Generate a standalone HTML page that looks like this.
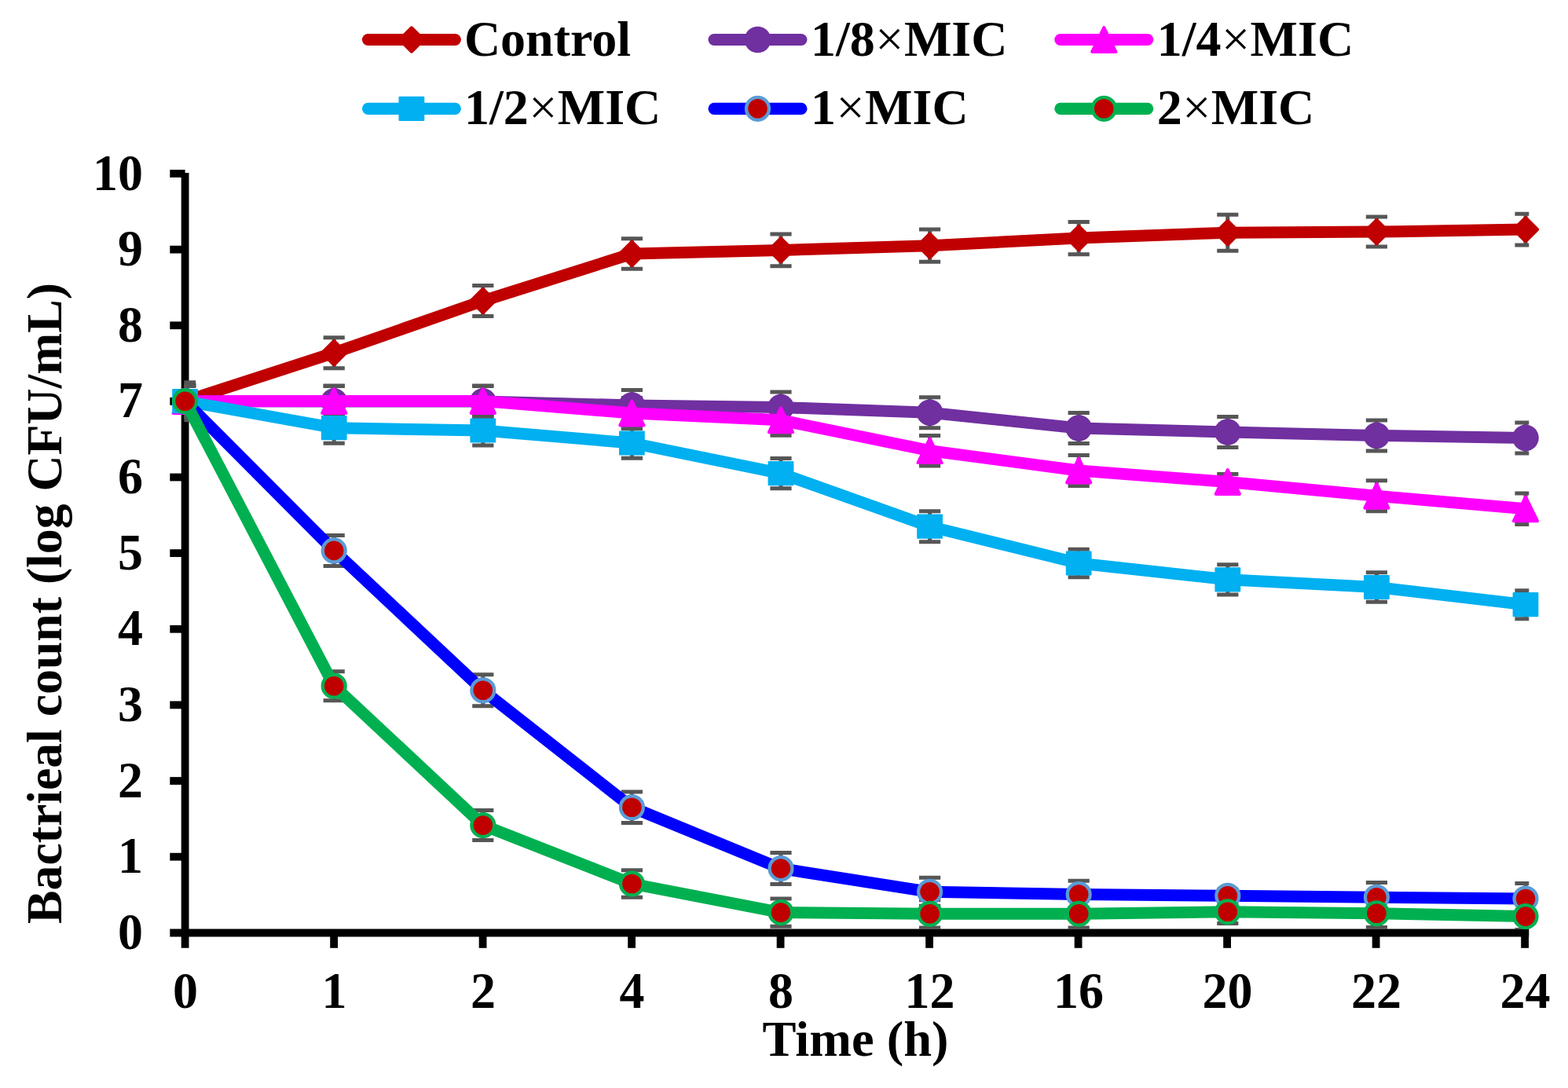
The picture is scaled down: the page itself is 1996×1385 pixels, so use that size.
<!DOCTYPE html>
<html lang="en">
<head>
<meta charset="utf-8">
<title>Time-kill curve</title>
<style>
html,body{margin:0;padding:0;background:#ffffff;}
body{width:1996px;height:1385px;overflow:hidden;}
svg{display:block;}
</style>
</head>
<body>
<svg width="1996" height="1385" viewBox="0 0 1996 1385">
<defs><clipPath id="pc"><rect x="234.4" y="200" width="1711.9" height="983"/></clipPath></defs>
<rect width="1996" height="1385" fill="#ffffff"/>
<g stroke="#000000" fill="none" stroke-linecap="butt">
<line x1="235.6" y1="219.9" x2="235.6" y2="1206.8" stroke-width="9.8"/>
<line x1="216.3" y1="1187.5" x2="1946.3" y2="1187.5" stroke-width="10.2"/>
<line x1="216.3" y1="1090.67" x2="235.6" y2="1090.67" stroke-width="9.8"/>
<line x1="216.3" y1="994.04" x2="235.6" y2="994.04" stroke-width="9.8"/>
<line x1="216.3" y1="897.41" x2="235.6" y2="897.41" stroke-width="9.8"/>
<line x1="216.3" y1="800.78" x2="235.6" y2="800.78" stroke-width="9.8"/>
<line x1="216.3" y1="704.15" x2="235.6" y2="704.15" stroke-width="9.8"/>
<line x1="216.3" y1="607.52" x2="235.6" y2="607.52" stroke-width="9.8"/>
<line x1="216.3" y1="510.89" x2="235.6" y2="510.89" stroke-width="9.8"/>
<line x1="216.3" y1="414.26" x2="235.6" y2="414.26" stroke-width="9.8"/>
<line x1="216.3" y1="317.63" x2="235.6" y2="317.63" stroke-width="9.8"/>
<line x1="216.3" y1="221.00" x2="235.6" y2="221.00" stroke-width="9.8"/>
<line x1="425.10" y1="1187.5" x2="425.10" y2="1206.8" stroke-width="9.8"/>
<line x1="614.60" y1="1187.5" x2="614.60" y2="1206.8" stroke-width="9.8"/>
<line x1="804.10" y1="1187.5" x2="804.10" y2="1206.8" stroke-width="9.8"/>
<line x1="993.60" y1="1187.5" x2="993.60" y2="1206.8" stroke-width="9.8"/>
<line x1="1183.10" y1="1187.5" x2="1183.10" y2="1206.8" stroke-width="9.8"/>
<line x1="1372.60" y1="1187.5" x2="1372.60" y2="1206.8" stroke-width="9.8"/>
<line x1="1562.10" y1="1187.5" x2="1562.10" y2="1206.8" stroke-width="9.8"/>
<line x1="1751.60" y1="1187.5" x2="1751.60" y2="1206.8" stroke-width="9.8"/>
<line x1="1941.10" y1="1187.5" x2="1941.10" y2="1206.8" stroke-width="9.8"/>
</g>
<g font-family="'Liberation Serif', 'Times New Roman', serif" font-weight="bold" font-size="64px" fill="#000000">
<text transform="translate(182.1 1207.90) scale(1 1.035)" text-anchor="end">0</text>
<text transform="translate(182.1 1111.27) scale(1 1.035)" text-anchor="end">1</text>
<text transform="translate(182.1 1014.64) scale(1 1.035)" text-anchor="end">2</text>
<text transform="translate(182.1 918.01) scale(1 1.035)" text-anchor="end">3</text>
<text transform="translate(182.1 821.38) scale(1 1.035)" text-anchor="end">4</text>
<text transform="translate(182.1 724.75) scale(1 1.035)" text-anchor="end">5</text>
<text transform="translate(182.1 628.12) scale(1 1.035)" text-anchor="end">6</text>
<text transform="translate(182.1 531.49) scale(1 1.035)" text-anchor="end">7</text>
<text transform="translate(182.1 434.86) scale(1 1.035)" text-anchor="end">8</text>
<text transform="translate(182.1 338.23) scale(1 1.035)" text-anchor="end">9</text>
<text transform="translate(182.1 241.60) scale(1 1.035)" text-anchor="end">10</text>
<text transform="translate(236.10 1283.1) scale(1 1.035)" text-anchor="middle">0</text>
<text transform="translate(425.60 1283.1) scale(1 1.035)" text-anchor="middle">1</text>
<text transform="translate(615.10 1283.1) scale(1 1.035)" text-anchor="middle">2</text>
<text transform="translate(804.60 1283.1) scale(1 1.035)" text-anchor="middle">4</text>
<text transform="translate(994.10 1283.1) scale(1 1.035)" text-anchor="middle">8</text>
<text transform="translate(1183.60 1283.1) scale(1 1.035)" text-anchor="middle">12</text>
<text transform="translate(1373.10 1283.1) scale(1 1.035)" text-anchor="middle">16</text>
<text transform="translate(1562.60 1283.1) scale(1 1.035)" text-anchor="middle">20</text>
<text transform="translate(1752.10 1283.1) scale(1 1.035)" text-anchor="middle">22</text>
<text transform="translate(1941.60 1283.1) scale(1 1.035)" text-anchor="middle">24</text>
<text transform="translate(1089 1344.4) scale(1.008 1)" text-anchor="middle">Time (h)</text>
<text transform="translate(78.1 768) rotate(-90) scale(0.9958 1)" text-anchor="middle">Bactrieal count (log CFU/mL)</text>
</g>
<g fill="none" stroke="#565656" stroke-width="5" clip-path="url(#pc)">
<path d="M235.6 486.7V534.7M222.0 486.7H249.2M222.0 534.7H249.2M425.2 429.7V468.7M411.6 429.7H438.8M411.6 468.7H438.8M614.8 363.5V402.5M601.2 363.5H628.4M601.2 402.5H628.4M804.4 303.7V342.3M790.8 303.7H818.0M790.8 342.3H818.0M994.0 298.1V338.7M980.4 298.1H1007.6M980.4 338.7H1007.6M1183.6 292.1V333.3M1170.0 292.1H1197.2M1170.0 333.3H1197.2M1373.2 282.5V323.7M1359.6 282.5H1386.8M1359.6 323.7H1386.8M1562.8 273.2V319.2M1549.2 273.2H1576.4M1549.2 319.2H1576.4M1752.4 276.1V314.1M1738.8 276.1H1766.0M1738.8 314.1H1766.0M1942.0 272.3V311.9M1928.4 272.3H1955.6M1928.4 311.9H1955.6"/>
<path d="M235.6 490.2V531.2M222.0 490.2H249.2M222.0 531.2H249.2M425.2 491.4V530.4M411.6 491.4H438.8M411.6 530.4H438.8M614.8 491.4V530.4M601.2 491.4H628.4M601.2 530.4H628.4M804.4 496.5V535.5M790.8 496.5H818.0M790.8 535.5H818.0M994.0 499.1V538.1M980.4 499.1H1007.6M980.4 538.1H1007.6M1183.6 505.7V544.7M1170.0 505.7H1197.2M1170.0 544.7H1197.2M1373.2 525.5V564.5M1359.6 525.5H1386.8M1359.6 564.5H1386.8M1562.8 530.5V569.5M1549.2 530.5H1576.4M1549.2 569.5H1576.4M1752.4 534.9V573.9M1738.8 534.9H1766.0M1738.8 573.9H1766.0M1942.0 537.9V576.9M1928.4 537.9H1955.6M1928.4 576.9H1955.6"/>
<path d="M235.6 490.2V531.2M222.0 490.2H249.2M222.0 531.2H249.2M425.2 491.0V530.0M411.6 491.0H438.8M411.6 530.0H438.8M614.8 491.0V530.0M601.2 491.0H628.4M601.2 530.0H628.4M804.4 506.5V545.5M790.8 506.5H818.0M790.8 545.5H818.0M994.0 515.3V554.3M980.4 515.3H1007.6M980.4 554.3H1007.6M1183.6 554.5V592.9M1170.0 554.5H1197.2M1170.0 592.9H1197.2M1373.2 579.4V618.6M1359.6 579.4H1386.8M1359.6 618.6H1386.8M1562.8 603.5V623.5M1549.2 603.5H1576.4M1549.2 623.5H1576.4M1752.4 611.8V650.8M1738.8 611.8H1766.0M1738.8 650.8H1766.0M1942.0 628.1V667.5M1928.4 628.1H1955.6M1928.4 667.5H1955.6"/>
<path d="M235.6 491.2V530.2M222.0 491.2H249.2M222.0 530.2H249.2M425.2 525.2V564.2M411.6 525.2H438.8M411.6 564.2H438.8M614.8 529.0V567.0M601.2 529.0H628.4M601.2 567.0H628.4M804.4 544.7V583.3M790.8 544.7H818.0M790.8 583.3H818.0M994.0 583.6V621.8M980.4 583.6H1007.6M980.4 621.8H1007.6M1183.6 650.7V689.7M1170.0 650.7H1197.2M1170.0 689.7H1197.2M1373.2 699.2V734.8M1359.6 699.2H1386.8M1359.6 734.8H1386.8M1562.8 718.7V756.9M1549.2 718.7H1576.4M1549.2 756.9H1576.4M1752.4 728.7V766.3M1738.8 728.7H1766.0M1738.8 766.3H1766.0M1942.0 751.7V787.7M1928.4 751.7H1955.6M1928.4 787.7H1955.6"/>
<path d="M235.6 491.2V530.2M222.0 491.2H249.2M222.0 530.2H249.2M425.2 681.4V720.4M411.6 681.4H438.8M411.6 720.4H438.8M614.8 858.8V898.8M601.2 858.8H628.4M601.2 898.8H628.4M804.4 1008.0V1047.6M790.8 1008.0H818.0M790.8 1047.6H818.0M994.0 1085.6V1125.6M980.4 1085.6H1007.6M980.4 1125.6H1007.6M1183.6 1117.3V1153.3M1170.0 1117.3H1197.2M1170.0 1153.3H1197.2M1373.2 1121.2V1155.8M1359.6 1121.2H1386.8M1359.6 1155.8H1386.8M1562.8 1132.3V1148.3M1549.2 1132.3H1576.4M1549.2 1148.3H1576.4M1752.4 1123.5V1161.1M1738.8 1123.5H1766.0M1738.8 1161.1H1766.0M1942.0 1124.5V1163.5M1928.4 1124.5H1955.6M1928.4 1163.5H1955.6"/>
<path d="M235.6 491.2V530.2M222.0 491.2H249.2M222.0 530.2H249.2M425.2 854.7V891.7M411.6 854.7H438.8M411.6 891.7H438.8M614.8 1031.4V1069.6M601.2 1031.4H628.4M601.2 1069.6H628.4M804.4 1107.7V1142.3M790.8 1107.7H818.0M790.8 1142.3H818.0M994.0 1143.9V1179.3M980.4 1143.9H1007.6M980.4 1179.3H1007.6M1183.6 1145.7V1180.9M1170.0 1145.7H1197.2M1170.0 1180.9H1197.2M1373.2 1145.7V1180.9M1359.6 1145.7H1386.8M1359.6 1180.9H1386.8M1562.8 1146.2V1175.4M1549.2 1146.2H1576.4M1549.2 1175.4H1576.4M1752.4 1145.2V1180.4M1738.8 1145.2H1766.0M1738.8 1180.4H1766.0M1942.0 1149.6V1183.6M1928.4 1149.6H1955.6M1928.4 1183.6H1955.6"/>
</g>
<g>
<polyline points="235.6,510.7 425.2,449.2 614.8,383.0 804.4,323.0 994.0,318.4 1183.6,312.7 1373.2,303.1 1562.8,296.2 1752.4,295.1 1942.0,292.1" fill="none" stroke="#c00000" stroke-width="15" stroke-linejoin="round" stroke-linecap="round"/>
<path d="M221.30 510.70L235.60 496.40L249.90 510.70L235.60 525.00Z" fill="#c00000" stroke="#c00000" stroke-width="5.4" stroke-linejoin="round"/>
<path d="M410.90 449.20L425.20 434.90L439.50 449.20L425.20 463.50Z" fill="#c00000" stroke="#c00000" stroke-width="5.4" stroke-linejoin="round"/>
<path d="M600.50 383.00L614.80 368.70L629.10 383.00L614.80 397.30Z" fill="#c00000" stroke="#c00000" stroke-width="5.4" stroke-linejoin="round"/>
<path d="M790.10 323.00L804.40 308.70L818.70 323.00L804.40 337.30Z" fill="#c00000" stroke="#c00000" stroke-width="5.4" stroke-linejoin="round"/>
<path d="M979.70 318.40L994.00 304.10L1008.30 318.40L994.00 332.70Z" fill="#c00000" stroke="#c00000" stroke-width="5.4" stroke-linejoin="round"/>
<path d="M1169.30 312.70L1183.60 298.40L1197.90 312.70L1183.60 327.00Z" fill="#c00000" stroke="#c00000" stroke-width="5.4" stroke-linejoin="round"/>
<path d="M1358.90 303.10L1373.20 288.80L1387.50 303.10L1373.20 317.40Z" fill="#c00000" stroke="#c00000" stroke-width="5.4" stroke-linejoin="round"/>
<path d="M1548.50 296.20L1562.80 281.90L1577.10 296.20L1562.80 310.50Z" fill="#c00000" stroke="#c00000" stroke-width="5.4" stroke-linejoin="round"/>
<path d="M1738.10 295.10L1752.40 280.80L1766.70 295.10L1752.40 309.40Z" fill="#c00000" stroke="#c00000" stroke-width="5.4" stroke-linejoin="round"/>
<path d="M1927.70 292.10L1942.00 277.80L1956.30 292.10L1942.00 306.40Z" fill="#c00000" stroke="#c00000" stroke-width="5.4" stroke-linejoin="round"/>
</g>
<g>
<polyline points="235.6,510.7 425.2,510.9 614.8,510.9 804.4,516.0 994.0,518.6 1183.6,525.2 1373.2,545.0 1562.8,550.0 1752.4,554.4 1942.0,557.4" fill="none" stroke="#7030a0" stroke-width="15" stroke-linejoin="round" stroke-linecap="round"/>
<circle cx="235.60" cy="510.70" r="16.8" fill="#7030a0"/>
<circle cx="425.20" cy="510.90" r="16.8" fill="#7030a0"/>
<circle cx="614.80" cy="510.90" r="16.8" fill="#7030a0"/>
<circle cx="804.40" cy="516.00" r="16.8" fill="#7030a0"/>
<circle cx="994.00" cy="518.60" r="16.8" fill="#7030a0"/>
<circle cx="1183.60" cy="525.20" r="16.8" fill="#7030a0"/>
<circle cx="1373.20" cy="545.00" r="16.8" fill="#7030a0"/>
<circle cx="1562.80" cy="550.00" r="16.8" fill="#7030a0"/>
<circle cx="1752.40" cy="554.40" r="16.8" fill="#7030a0"/>
<circle cx="1942.00" cy="557.40" r="16.8" fill="#7030a0"/>
</g>
<g>
<polyline points="235.6,510.7 425.2,510.5 614.8,510.5 804.4,526.0 994.0,534.8 1183.6,573.7 1373.2,599.0 1562.8,613.5 1752.4,631.3 1942.0,647.8" fill="none" stroke="#ff00ff" stroke-width="15" stroke-linejoin="round" stroke-linecap="round"/>
<path d="M235.60 495.30L250.70 526.10L220.50 526.10Z" fill="#ff00ff" stroke="#ff00ff" stroke-width="4" stroke-linejoin="round"/>
<path d="M425.20 495.10L440.30 525.90L410.10 525.90Z" fill="#ff00ff" stroke="#ff00ff" stroke-width="4" stroke-linejoin="round"/>
<path d="M614.80 495.10L629.90 525.90L599.70 525.90Z" fill="#ff00ff" stroke="#ff00ff" stroke-width="4" stroke-linejoin="round"/>
<path d="M804.40 510.60L819.50 541.40L789.30 541.40Z" fill="#ff00ff" stroke="#ff00ff" stroke-width="4" stroke-linejoin="round"/>
<path d="M994.00 519.40L1009.10 550.20L978.90 550.20Z" fill="#ff00ff" stroke="#ff00ff" stroke-width="4" stroke-linejoin="round"/>
<path d="M1183.60 558.30L1198.70 589.10L1168.50 589.10Z" fill="#ff00ff" stroke="#ff00ff" stroke-width="4" stroke-linejoin="round"/>
<path d="M1373.20 583.60L1388.30 614.40L1358.10 614.40Z" fill="#ff00ff" stroke="#ff00ff" stroke-width="4" stroke-linejoin="round"/>
<path d="M1562.80 598.10L1577.90 628.90L1547.70 628.90Z" fill="#ff00ff" stroke="#ff00ff" stroke-width="4" stroke-linejoin="round"/>
<path d="M1752.40 615.90L1767.50 646.70L1737.30 646.70Z" fill="#ff00ff" stroke="#ff00ff" stroke-width="4" stroke-linejoin="round"/>
<path d="M1942.00 632.40L1957.10 663.20L1926.90 663.20Z" fill="#ff00ff" stroke="#ff00ff" stroke-width="4" stroke-linejoin="round"/>
</g>
<g>
<polyline points="235.6,510.7 425.2,544.7 614.8,548.0 804.4,564.0 994.0,602.7 1183.6,670.2 1373.2,717.0 1562.8,737.8 1752.4,747.5 1942.0,769.7" fill="none" stroke="#00b0f0" stroke-width="15" stroke-linejoin="round" stroke-linecap="round"/>
<rect x="219.20" y="495.10" width="32.8" height="31.2" rx="1" fill="#00b0f0"/>
<rect x="408.80" y="529.10" width="32.8" height="31.2" rx="1" fill="#00b0f0"/>
<rect x="598.40" y="532.40" width="32.8" height="31.2" rx="1" fill="#00b0f0"/>
<rect x="788.00" y="548.40" width="32.8" height="31.2" rx="1" fill="#00b0f0"/>
<rect x="977.60" y="587.10" width="32.8" height="31.2" rx="1" fill="#00b0f0"/>
<rect x="1167.20" y="654.60" width="32.8" height="31.2" rx="1" fill="#00b0f0"/>
<rect x="1356.80" y="701.40" width="32.8" height="31.2" rx="1" fill="#00b0f0"/>
<rect x="1546.40" y="722.20" width="32.8" height="31.2" rx="1" fill="#00b0f0"/>
<rect x="1736.00" y="731.90" width="32.8" height="31.2" rx="1" fill="#00b0f0"/>
<rect x="1925.60" y="754.10" width="32.8" height="31.2" rx="1" fill="#00b0f0"/>
</g>
<g>
<polyline points="235.6,510.7 425.2,700.9 614.8,878.8 804.4,1027.8 994.0,1105.6 1183.6,1135.3 1373.2,1138.5 1562.8,1140.3 1752.4,1142.3 1942.0,1144.0" fill="none" stroke="#0000ff" stroke-width="15" stroke-linejoin="round" stroke-linecap="round"/>
<circle cx="235.60" cy="510.70" r="14.45" fill="#c00000" stroke="#5b9bd5" stroke-width="4.3"/>
<circle cx="425.20" cy="700.90" r="14.45" fill="#c00000" stroke="#5b9bd5" stroke-width="4.3"/>
<circle cx="614.80" cy="878.80" r="14.45" fill="#c00000" stroke="#5b9bd5" stroke-width="4.3"/>
<circle cx="804.40" cy="1027.80" r="14.45" fill="#c00000" stroke="#5b9bd5" stroke-width="4.3"/>
<circle cx="994.00" cy="1105.60" r="14.45" fill="#c00000" stroke="#5b9bd5" stroke-width="4.3"/>
<circle cx="1183.60" cy="1135.30" r="14.45" fill="#c00000" stroke="#5b9bd5" stroke-width="4.3"/>
<circle cx="1373.20" cy="1138.50" r="14.45" fill="#c00000" stroke="#5b9bd5" stroke-width="4.3"/>
<circle cx="1562.80" cy="1140.30" r="14.45" fill="#c00000" stroke="#5b9bd5" stroke-width="4.3"/>
<circle cx="1752.40" cy="1142.30" r="14.45" fill="#c00000" stroke="#5b9bd5" stroke-width="4.3"/>
<circle cx="1942.00" cy="1144.00" r="14.45" fill="#c00000" stroke="#5b9bd5" stroke-width="4.3"/>
</g>
<g>
<polyline points="235.6,510.7 425.2,873.2 614.8,1050.5 804.4,1125.0 994.0,1161.6 1183.6,1163.3 1373.2,1163.3 1562.8,1160.8 1752.4,1162.8 1942.0,1166.6" fill="none" stroke="#00b050" stroke-width="15" stroke-linejoin="round" stroke-linecap="round"/>
<circle cx="235.60" cy="510.70" r="14.45" fill="#c00000" stroke="#00b050" stroke-width="4.3"/>
<circle cx="425.20" cy="873.20" r="14.45" fill="#c00000" stroke="#00b050" stroke-width="4.3"/>
<circle cx="614.80" cy="1050.50" r="14.45" fill="#c00000" stroke="#00b050" stroke-width="4.3"/>
<circle cx="804.40" cy="1125.00" r="14.45" fill="#c00000" stroke="#00b050" stroke-width="4.3"/>
<circle cx="994.00" cy="1161.60" r="14.45" fill="#c00000" stroke="#00b050" stroke-width="4.3"/>
<circle cx="1183.60" cy="1163.30" r="14.45" fill="#c00000" stroke="#00b050" stroke-width="4.3"/>
<circle cx="1373.20" cy="1163.30" r="14.45" fill="#c00000" stroke="#00b050" stroke-width="4.3"/>
<circle cx="1562.80" cy="1160.80" r="14.45" fill="#c00000" stroke="#00b050" stroke-width="4.3"/>
<circle cx="1752.40" cy="1162.80" r="14.45" fill="#c00000" stroke="#00b050" stroke-width="4.3"/>
<circle cx="1942.00" cy="1166.60" r="14.45" fill="#c00000" stroke="#00b050" stroke-width="4.3"/>
</g>
<g font-family="'Liberation Serif', 'Times New Roman', serif" font-weight="bold" font-size="64px" fill="#000000">
<line x1="468.50" y1="50.5" x2="579.30" y2="50.5" stroke="#c00000" stroke-width="15.2" stroke-linecap="round"/>
<path d="M509.60 50.50L523.90 36.20L538.20 50.50L523.90 64.80Z" fill="#c00000" stroke="#c00000" stroke-width="5.4" stroke-linejoin="round"/>
<text x="590.90" y="71.0">Control</text>
<line x1="909.10" y1="50.5" x2="1019.90" y2="50.5" stroke="#7030a0" stroke-width="15.2" stroke-linecap="round"/>
<circle cx="964.50" cy="50.50" r="16.8" fill="#7030a0"/>
<text x="1032.00" y="71.0">1/8<tspan dx="0.5" font-weight="normal">×</tspan><tspan dx="0.5">MIC</tspan></text>
<line x1="1349.90" y1="50.5" x2="1460.70" y2="50.5" stroke="#ff00ff" stroke-width="15.2" stroke-linecap="round"/>
<path d="M1405.30 35.10L1420.40 65.90L1390.20 65.90Z" fill="#ff00ff" stroke="#ff00ff" stroke-width="4" stroke-linejoin="round"/>
<text x="1472.70" y="71.0">1/4<tspan dx="0.5" font-weight="normal">×</tspan><tspan dx="0.5">MIC</tspan></text>
<line x1="468.50" y1="138.3" x2="579.30" y2="138.3" stroke="#00b0f0" stroke-width="15.2" stroke-linecap="round"/>
<rect x="507.50" y="122.70" width="32.8" height="31.2" rx="1" fill="#00b0f0"/>
<text x="590.90" y="158.4">1/2<tspan dx="0.5" font-weight="normal">×</tspan><tspan dx="0.5">MIC</tspan></text>
<line x1="909.10" y1="138.3" x2="1019.90" y2="138.3" stroke="#0000ff" stroke-width="15.2" stroke-linecap="round"/>
<circle cx="964.50" cy="138.30" r="14.45" fill="#c00000" stroke="#5b9bd5" stroke-width="4.3"/>
<text x="1032.00" y="158.4">1<tspan dx="0.5" font-weight="normal">×</tspan><tspan dx="0.5">MIC</tspan></text>
<line x1="1349.90" y1="138.3" x2="1460.70" y2="138.3" stroke="#00b050" stroke-width="15.2" stroke-linecap="round"/>
<circle cx="1405.30" cy="138.30" r="14.45" fill="#c00000" stroke="#00b050" stroke-width="4.3"/>
<text x="1472.70" y="158.4">2<tspan dx="0.5" font-weight="normal">×</tspan><tspan dx="0.5">MIC</tspan></text>
</g>
</svg>
</body>
</html>
